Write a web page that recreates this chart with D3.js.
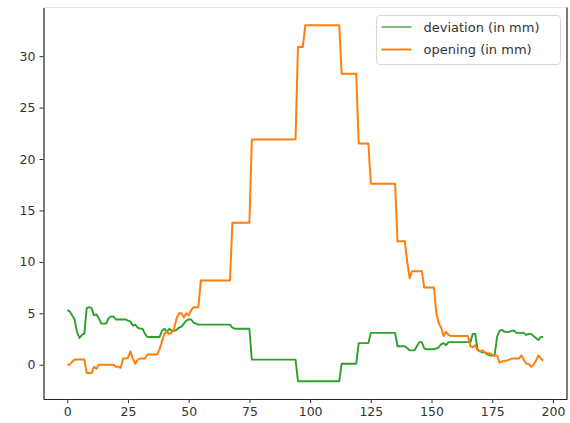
<!DOCTYPE html>
<html>
<head>
<meta charset="utf-8">
<script src="https://cdn.jsdelivr.net/npm/d3@7"></script>
<style>
  html, body { margin: 0; padding: 0; background: #fff; }
  svg { display: block; font-family: "DejaVu Sans", sans-serif; }
</style>
</head>
<body>
<svg id="chart" width="570" height="423"></svg>
<script>
// Sample index runs 0..196
const deviation = [
  5.3, 5.2, 4.8, 4.4, 3.2, 2.6, 2.9, 3.0, 5.5, 5.6,
  5.5, 4.8, 4.9, 4.5, 4.0, 4.0, 4.0, 4.5, 4.7, 4.7,
  4.4, 4.4, 4.4, 4.4, 4.4, 4.3, 4.2, 3.8, 3.9, 3.6,
  3.5, 3.5, 3.0, 2.7, 2.7, 2.7, 2.7, 2.7, 2.7, 3.3,
  3.5, 3.2, 3.5, 3.3, 3.3, 3.4, 3.6, 3.7, 4.0, 4.3,
  4.4, 4.4, 4.1, 4.0, 3.9, 3.9, 3.9, 3.9, 3.9, 3.9,
  3.9, 3.9, 3.9, 3.9, 3.9, 3.9, 3.9, 3.9, 3.6, 3.5,
  3.5, 3.5, 3.5, 3.5, 3.5, 3.5, 0.5, 0.5, 0.5, 0.5,
  0.5, 0.5, 0.5, 0.5, 0.5, 0.5, 0.5, 0.5, 0.5, 0.5,
  0.5, 0.5, 0.5, 0.5, 0.5, -1.6, -1.6, -1.6, -1.6, -1.6,
  -1.6, -1.6, -1.6, -1.6, -1.6, -1.6, -1.6, -1.6, -1.6, -1.6,
  -1.6, -1.6, -1.6, 0.1, 0.1, 0.1, 0.1, 0.1, 0.1, 0.1,
  2.1, 2.1, 2.1, 2.1, 2.1, 3.1, 3.1, 3.1, 3.1, 3.1,
  3.1, 3.1, 3.1, 3.1, 3.1, 3.1, 1.8, 1.8, 1.8, 1.8,
  1.6, 1.4, 1.4, 1.4, 1.8, 2.2, 2.2, 1.6, 1.5, 1.5,
  1.5, 1.5, 1.6, 1.7, 2.0, 2.1, 1.9, 2.2, 2.2, 2.2,
  2.2, 2.2, 2.2, 2.2, 2.2, 2.2, 2.2, 3.0, 3.0, 1.5,
  1.3, 1.2, 1.2, 1.0, 0.9, 0.9, 0.9, 2.7, 3.3, 3.4,
  3.2, 3.2, 3.2, 3.3, 3.3, 3.1, 3.1, 3.1, 3.1, 2.9,
  3.0, 3.0, 2.8, 2.6, 2.4, 2.7, 2.7
];

const opening = [
  0.0, 0.0, 0.3, 0.5, 0.5, 0.5, 0.5, 0.5, -0.8, -0.8,
  -0.8, -0.2, -0.4, 0.0, 0.0, 0.0, 0.0, 0.0, 0.0, 0.0,
  -0.2, -0.2, -0.3, 0.6, 0.6, 0.7, 1.3, 0.6, 0.1, 0.5,
  0.6, 0.6, 0.6, 1.0, 1.0, 1.0, 1.0, 1.0, 1.5, 2.3,
  3.0, 3.2, 3.0, 3.1, 3.5, 4.5, 5.0, 5.0, 4.6, 5.0,
  4.8, 5.3, 5.6, 5.6, 5.6, 8.2, 8.2, 8.2, 8.2, 8.2,
  8.2, 8.2, 8.2, 8.2, 8.2, 8.2, 8.2, 8.2, 13.8, 13.8,
  13.8, 13.8, 13.8, 13.8, 13.8, 13.8, 21.9, 21.9, 21.9, 21.9,
  21.9, 21.9, 21.9, 21.9, 21.9, 21.9, 21.9, 21.9, 21.9, 21.9,
  21.9, 21.9, 21.9, 21.9, 21.9, 30.9, 30.9, 30.9, 33.0, 33.0,
  33.0, 33.0, 33.0, 33.0, 33.0, 33.0, 33.0, 33.0, 33.0, 33.0,
  33.0, 33.0, 33.0, 28.3, 28.3, 28.3, 28.3, 28.3, 28.3, 28.3,
  21.5, 21.5, 21.5, 21.5, 21.5, 17.6, 17.6, 17.6, 17.6, 17.6,
  17.6, 17.6, 17.6, 17.6, 17.6, 17.6, 12.0, 12.0, 12.0, 12.0,
  10.0, 8.4, 9.1, 9.1, 9.1, 9.1, 9.1, 7.5, 7.5, 7.5,
  7.5, 7.5, 5.0, 4.0, 3.6, 2.8, 3.2, 2.9, 2.8, 2.8,
  2.8, 2.8, 2.8, 2.8, 2.8, 2.8, 1.8, 1.7, 1.9, 1.4,
  1.3, 1.4, 1.2, 1.1, 1.1, 1.0, 0.9, 0.9, 0.2, 0.3,
  0.4, 0.4, 0.5, 0.6, 0.6, 0.6, 0.6, 0.9, 0.5, 0.1,
  0.1, -0.2, 0.0, 0.4, 0.9, 0.6, 0.4
];

const xTicks = [0, 25, 50, 75, 100, 125, 150, 175, 200];
const yTicks = [0, 5, 10, 15, 20, 25, 30];
const seriesNames = ["deviation (in mm)", "opening (in mm)"];
const seriesColors = ["#2ca02c", "#ff7f0e"];

const svg = d3.select("#chart");
const plotLeft = 43.5, plotRight = 567, plotTop = 7.5, plotBottom = 399;

const n = opening.length;
const allVals = deviation.concat(opening);
const xMin = 0, xMax = n - 1;
const yMin = d3.min(allVals), yMax = d3.max(allVals);
const xPad = (xMax - xMin) * 0.05, yPad = (yMax - yMin) * 0.05;

const x = d3.scaleLinear().domain([xMin - xPad, xMax + xPad]).range([plotLeft, plotRight]);
const y = d3.scaleLinear().domain([yMin - yPad, yMax + yPad]).range([plotBottom, plotTop]);

// Frame
svg.append("line").attr("x1", plotLeft).attr("x2", plotRight).attr("y1", plotTop).attr("y2", plotTop)
  .attr("stroke", "#e4e4e4").attr("stroke-width", 1);

// Axes
const xAxis = svg.append("g").attr("transform", `translate(0,${plotBottom})`)
  .call(d3.axisBottom(x).tickValues(xTicks).tickSizeInner(4).tickSizeOuter(0).tickPadding(4).tickFormat(d3.format("d")));
const yAxis = svg.append("g").attr("transform", `translate(${plotLeft},0)`)
  .call(d3.axisLeft(y).tickValues(yTicks).tickSizeInner(4).tickSizeOuter(0).tickPadding(4).tickFormat(d3.format("d")));

[xAxis, yAxis].forEach(g => {
  g.select(".domain").attr("stroke", "#222").attr("stroke-width", 1.2);
  g.selectAll(".tick line").attr("stroke", "#333").attr("stroke-width", 1);
  g.selectAll(".tick text").attr("fill", "#333").attr("font-size", 12.5)
    .attr("font-family", "DejaVu Sans, sans-serif");
});
svg.append("line").attr("x1", plotRight).attr("x2", plotRight).attr("y1", plotTop).attr("y2", plotBottom)
  .attr("stroke", "#222").attr("stroke-width", 1.2);

// Series lines
const line = d3.line().x((d, i) => x(i)).y(d => y(d));
svg.append("path").datum(deviation).attr("d", line)
  .attr("fill", "none").attr("stroke", seriesColors[0]).attr("stroke-width", 1.9)
  .attr("stroke-linejoin", "round");
svg.append("path").datum(opening).attr("d", line)
  .attr("fill", "none").attr("stroke", seriesColors[1]).attr("stroke-width", 2)
  .attr("stroke-linejoin", "round");

// Legend
const lg = svg.append("g").attr("transform", "translate(376.5,15.5)");
lg.append("rect").attr("width", 184).attr("height", 49).attr("rx", 3)
  .attr("fill", "#fff").attr("fill-opacity", 0.85)
  .attr("stroke", "#d6d6d6").attr("stroke-width", 1);
seriesNames.forEach((name, k) => {
  const cy = 11.5 + k * 22.5;
  lg.append("line").attr("x1", 5).attr("x2", 35).attr("y1", cy).attr("y2", cy)
    .attr("stroke", seriesColors[k]).attr("stroke-width", k === 0 ? 1.3 : 2);
  lg.append("text").attr("x", 47).attr("y", cy).attr("dy", "0.35em")
    .attr("font-size", 13).attr("fill", "#333").text(name);
});
</script>
</body>
</html>
